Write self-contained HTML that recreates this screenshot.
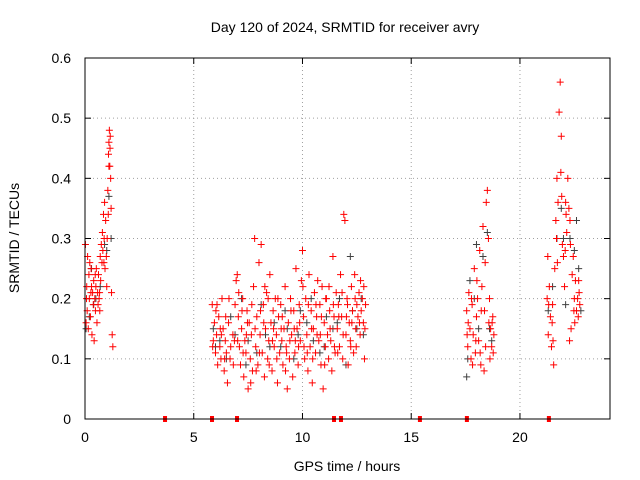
<!DOCTYPE html>
<html><head><meta charset="utf-8"><style>
html,body{margin:0;padding:0;background:#fff;}
svg{display:block;font-family:"Liberation Sans",sans-serif;}
</style></head><body>
<svg id="chart" width="640" height="480" xmlns="http://www.w3.org/2000/svg">
<text x="345" y="32" text-anchor="middle" font-size="14">Day 120 of 2024, SRMTID for receiver avry</text>
<text x="347" y="471" text-anchor="middle" font-size="14">GPS time / hours</text>
<text x="19" y="238" text-anchor="middle" font-size="14" transform="rotate(-90 19 238)">SRMTID / TECUs</text>
<g id="grid"></g><g id="ticks"></g><g id="marks"></g>
<rect x="85" y="58" width="525" height="361" fill="none" stroke="#000" stroke-width="1"/>
</svg>
<script>
const xTicks=[0,5,10,15,20];
const yTicks=[0,0.1,0.2,0.3,0.4,0.5,0.6];
const yTickLabels=["0","0.1","0.2","0.3","0.4","0.5","0.6"];
const redT=[0.02,0.05,0.08,0.1,0.12,0.15,0.18,0.2,0.22,0.25,0.28,0.3,0.32,0.35,0.38,0.4,0.42,0.45,0.48,0.5,0.52,0.55,0.58,0.6,0.62,0.65,0.68,0.7,0.72,0.75,0.78,0.8,0.82,0.85,0.88,0.9,0.92,0.95,0.98,1.0,1.02,1.05,1.08,1.1,1.12,1.14,1.16,1.18,1.2,1.22,1.25,1.28,1.15,1.1,
5.85,5.9,5.95,6.0,6.05,6.1,6.15,6.2,6.25,6.3,6.35,6.4,6.45,6.5,6.55,6.6,6.7,6.8,6.9,6.95,7.0,7.05,7.1,7.15,7.2,7.25,7.3,7.35,7.4,7.45,7.5,7.55,7.6,7.65,7.7,7.75,7.8,7.85,7.9,7.95,8.0,8.05,8.1,8.15,8.2,8.25,8.3,8.35,8.4,8.45,8.5,8.55,8.6,8.65,8.7,8.75,8.8,8.85,8.9,8.95,9.0,9.05,9.1,9.15,9.2,9.25,9.3,9.35,9.4,9.45,9.5,9.55,9.6,9.65,9.7,9.75,9.8,9.85,9.9,9.95,10.0,10.05,10.1,10.15,10.2,10.25,10.3,10.35,10.4,10.45,10.5,10.55,10.6,10.65,10.7,10.75,10.8,10.85,10.9,10.95,11.0,11.05,11.1,11.15,11.2,11.25,11.3,11.35,11.4,11.45,11.5,11.55,11.6,11.65,11.7,11.75,11.8,11.85,11.9,11.95,12.0,12.05,12.1,12.15,12.2,12.25,12.3,12.35,12.4,12.45,12.5,12.55,12.6,12.65,12.7,12.75,12.8,12.85,12.9,
6.02,6.22,6.42,6.62,6.82,7.02,7.22,7.42,7.62,7.82,8.02,8.22,8.42,8.62,8.82,9.02,9.22,9.42,9.62,9.82,10.02,10.22,10.42,10.62,10.82,11.02,11.22,11.42,11.62,11.82,12.02,12.22,12.42,12.62,12.82,
5.87,6.07,6.27,6.47,6.67,6.87,7.07,7.27,7.47,7.67,7.87,8.07,8.27,8.47,8.67,8.87,9.07,9.27,9.47,9.67,9.87,10.07,10.27,10.47,10.67,10.87,11.07,11.27,11.47,11.67,11.87,12.07,12.27,12.47,12.67,12.87,
0.07,0.27,0.47,0.67,0.87,1.07,
17.55,17.6,17.65,17.7,17.75,17.8,17.85,17.9,17.95,18.0,18.05,18.1,18.15,18.2,18.25,18.3,18.35,18.4,18.45,18.5,18.55,18.6,18.65,18.7,18.75,18.8,17.62,17.82,18.02,18.22,18.42,18.62,18.72,
17.57,17.77,17.97,18.17,18.37,18.57,18.77,
21.25,21.3,21.35,21.4,21.45,21.5,21.55,21.6,21.65,21.7,21.75,21.8,21.85,21.9,21.95,22.0,22.05,22.1,22.15,22.2,22.25,22.3,22.35,22.4,22.45,22.5,22.55,22.6,22.65,22.7,22.75,21.28,21.48,21.68,21.88,22.08,22.28,22.48,22.68,
21.32,21.52,21.72,21.92,22.12,22.32,22.52,22.72];
const redV=[0.29,0.16,0.22,0.18,0.27,0.15,0.24,0.2,0.26,0.17,0.25,0.22,0.14,0.21,0.19,0.23,0.13,0.2,0.18,0.22,0.25,0.16,0.21,0.19,0.24,0.2,0.18,0.27,0.23,0.29,0.26,0.31,0.28,0.34,0.3,0.36,0.25,0.33,0.27,0.22,0.3,0.38,0.44,0.46,0.48,0.42,0.47,0.4,0.35,0.21,0.14,0.12,0.45,0.42,
0.19,0.13,0.16,0.11,0.14,0.09,0.17,0.12,0.1,0.2,0.15,0.08,0.13,0.11,0.06,0.16,0.12,0.14,0.19,0.23,0.24,0.17,0.12,0.09,0.15,0.2,0.07,0.13,0.11,0.18,0.05,0.16,0.1,0.14,0.08,0.22,0.3,0.12,0.17,0.09,0.26,0.14,0.29,0.11,0.19,0.07,0.15,0.21,0.1,0.13,0.24,0.16,0.08,0.18,0.12,0.2,0.14,0.06,0.17,0.11,0.19,0.13,0.09,0.15,0.22,0.12,0.05,0.16,0.1,0.2,0.14,0.07,0.18,0.11,0.25,0.15,0.09,0.19,0.13,0.23,0.28,0.17,0.1,0.2,0.14,0.08,0.24,0.12,0.18,0.06,0.15,0.21,0.11,0.17,0.23,0.13,0.19,0.09,0.22,0.05,0.16,0.12,0.2,0.14,0.1,0.18,0.13,0.08,0.27,0.17,0.11,0.21,0.15,0.19,0.12,0.24,0.17,0.1,0.34,0.33,0.14,0.2,0.09,0.16,0.13,0.22,0.18,0.11,0.24,0.15,0.19,0.17,0.21,0.14,0.18,0.2,0.16,0.1,0.19,
0.18,0.15,0.1,0.2,0.09,0.13,0.18,0.14,0.06,0.15,0.11,0.16,0.2,0.13,0.1,0.15,0.08,0.13,0.15,0.12,0.22,0.11,0.15,0.19,0.14,0.09,0.22,0.19,0.11,0.21,0.17,0.12,0.2,0.16,0.22,
0.12,0.19,0.14,0.17,0.1,0.13,0.21,0.11,0.16,0.19,0.08,0.18,0.22,0.09,0.15,0.2,0.17,0.11,0.18,0.13,0.16,0.12,0.19,0.1,0.14,0.17,0.2,0.15,0.12,0.17,0.14,0.19,0.16,0.12,0.23,0.15,
0.2,0.21,0.24,0.21,0.26,0.34,
0.18,0.12,0.21,0.15,0.1,0.19,0.14,0.25,0.11,0.17,0.2,0.13,0.28,0.09,0.22,0.32,0.08,0.26,0.36,0.38,0.3,0.2,0.15,0.12,0.17,0.14,0.16,0.09,0.23,0.18,0.12,0.1,0.16,
0.14,0.2,0.13,0.11,0.18,0.16,0.11,
0.2,0.14,0.22,0.17,0.12,0.19,0.09,0.25,0.33,0.4,0.36,0.51,0.56,0.47,0.29,0.27,0.22,0.36,0.31,0.4,0.35,0.33,0.15,0.24,0.27,0.2,0.23,0.18,0.2,0.23,0.19,0.27,0.16,0.3,0.41,0.28,0.13,0.18,0.17,
0.19,0.13,0.26,0.37,0.34,0.29,0.16,0.21];
const grayT=[0.05,0.2,0.3,0.5,0.7,0.9,1.1,1.2,5.9,6.2,6.5,6.9,7.2,7.5,7.9,8.3,8.7,9.0,9.3,9.6,9.9,10.2,10.5,10.8,11.1,11.4,11.7,12.0,12.2,12.5,12.8,17.55,17.6,17.7,17.9,18.1,18.3,18.5,18.7,21.3,21.5,21.7,21.9,22.1,22.3,22.5,22.7,22.8,
6.0,6.7,7.4,8.1,8.5,9.2,9.8,10.4,11.0,11.6,12.3,12.7,18.0,18.6,22.0,22.6,0.4,1.0];
const grayV=[0.15,0.17,0.25,0.2,0.22,0.29,0.37,0.3,0.15,0.13,0.1,0.14,0.2,0.13,0.11,0.14,0.16,0.12,0.15,0.1,0.18,0.16,0.13,0.11,0.17,0.15,0.2,0.09,0.27,0.15,0.14,0.07,0.1,0.23,0.2,0.15,0.27,0.31,0.13,0.18,0.22,0.3,0.35,0.19,0.3,0.28,0.25,0.18,
0.12,0.17,0.09,0.19,0.12,0.18,0.14,0.2,0.12,0.16,0.18,0.2,0.29,0.15,0.3,0.33,0.19,0.28];
const zeroT=[3.68,5.84,6.99,11.45,11.77,15.4,17.56,21.33];
const NS="http://www.w3.org/2000/svg";
const X0=85,X1=610,Y0=419,Y1=58,XMAX=24.14,YMAX=0.6;
function sx(t){return X0+t/XMAX*(X1-X0);}
function sy(v){return Y0-v/YMAX*(Y0-Y1);}
function mk(tag,attrs,parent){const e=document.createElementNS(NS,tag);for(const k in attrs)e.setAttribute(k,attrs[k]);parent.appendChild(e);return e;}
const grid=document.getElementById('grid'),ticks=document.getElementById('ticks'),marks=document.getElementById('marks');
xTicks.forEach(t=>{const x=sx(t);
 if(t>0){const g=mk('line',{x1:x,x2:x,y1:Y0,y2:Y1,stroke:'#a0a0a0','stroke-dasharray':'1,3'},grid);
 
 }
 const a=mk('line',{x1:x,x2:x,y1:Y0,y2:Y0-6,stroke:'#000'},ticks);
 
 
 const b=mk('line',{x1:x,x2:x,y1:Y1,y2:Y1+6,stroke:'#000'},ticks);
 
 
 const l=mk('text',{x:x,y:442,'text-anchor':'middle','font-size':'14'},ticks);l.textContent=String(t);
 
 
});
yTicks.forEach((v,i)=>{const y=sy(v);
 if(v>0&&v<0.6){const g=mk('line',{x1:X0,x2:X1,y1:y,y2:y,stroke:'#a0a0a0','stroke-dasharray':'1,3'},grid);
 
 }
 const a=mk('line',{x1:X0,x2:X0+6,y1:y,y2:y,stroke:'#000'},ticks);
 
 
 const b=mk('line',{x1:X1,x2:X1-6,y1:y,y2:y,stroke:'#000'},ticks);
 
 
 const l=mk('text',{x:71,y:y+5,'text-anchor':'end','font-size':'14'},ticks);l.textContent=yTickLabels[i];
 
 
});
function plus(t,v,color,name){const x=sx(t),y=sy(v);
 const p=mk('path',{d:`M${x-3.5},${y}h7M${x},${y-3.5}v7`,stroke:color,'stroke-width':1,fill:'none'},marks);
 
 }
grayT.forEach((t,i)=>plus(t,grayV[i],'#404040','gray-point'));
redT.forEach((t,i)=>plus(t,redV[i],'#ff0000','red-point'));
zeroT.forEach(t=>{const r=mk('rect',{x:sx(t)-2,y:Y0-3,width:4,height:6,fill:'#ff0000'},marks);
 
 });
</script>
</body></html>
